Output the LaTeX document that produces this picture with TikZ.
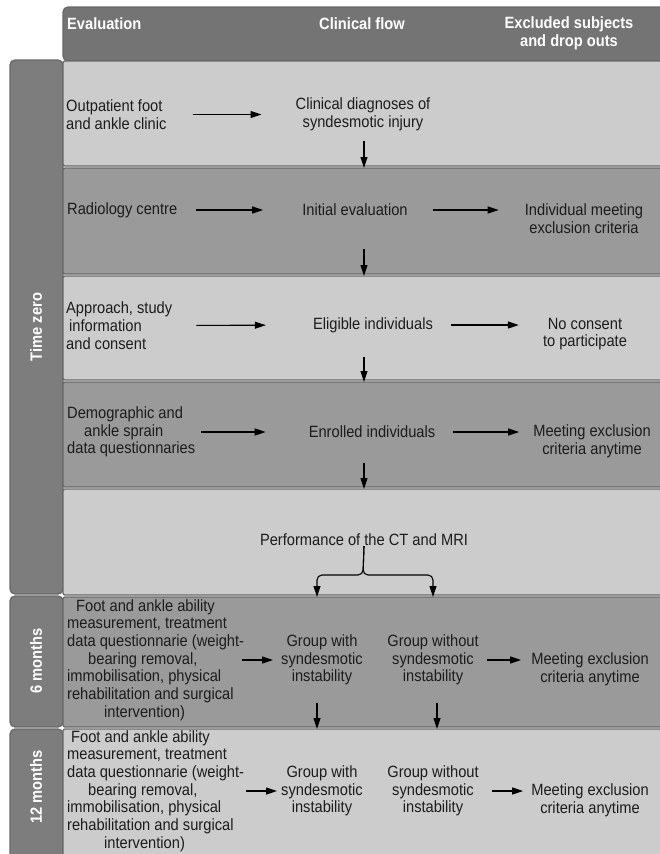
\documentclass[tikz,border=0pt]{standalone}
\usepackage{fontspec}
\setmainfont{Liberation Sans}[FakeStretch=0.9]
\usetikzlibrary{arrows.meta,calc}
\definecolor{hdr}{HTML}{747474}
\definecolor{band}{HTML}{7D7D7D}
\definecolor{edge}{HTML}{686868}
\definecolor{lite}{HTML}{CCCCCC}
\definecolor{mid}{HTML}{9A9A9A}
\definecolor{ink}{HTML}{1C1C1C}
\begin{document}
\begin{tikzpicture}[x=1pt,y=-1pt,
  font=\fontsize{16.3}{17.7}\selectfont,
  box/.style={draw=edge, line width=1.3pt, anchor=north west, inner sep=0pt, outer sep=0pt, rounded corners=2pt},
  rowL/.style={box, fill=lite, minimum width=600pt},
  rowM/.style={box, fill=mid, minimum width=600pt},
  bandbox/.style={box, fill=band, rounded corners=5pt, minimum width=53pt},
  hdrtxt/.style={text=white, inner sep=0pt, align=center, font=\fontsize{16.3}{17.7}\selectfont\bfseries},
  bandtxt/.style={hdrtxt, rotate=90},
  txt/.style={text=ink, inner sep=0pt, align=center},
  ltxt/.style={txt, align=left, anchor=west},
  arr/.style={-{Triangle[length=11pt,width=7pt]}, line width=1.1pt, draw=black},
]
\useasboundingbox (0,0) rectangle (659,854);
% header
\node[box, fill=hdr, rounded corners=5pt, minimum width=605pt, minimum height=54pt] (hdr) at (63,7) {};
% bands
\node[bandbox, minimum height=534pt] (b1) at (10,60) {};
\node[bandbox, minimum height=131pt] (b2) at (10,596) {};
\node[bandbox, minimum height=140pt] (b3) at (10,729) {};
% rows
\node[rowL, minimum height=105pt] (r1) at (63,61) {};
\node[rowM, minimum height=106pt] (r2) at (63,168) {};
\node[rowL, minimum height=104pt] (r3) at (63,276) {};
\node[rowM, minimum height=105pt] (r4) at (63,382) {};
\node[rowL, minimum height=106pt] (r5) at (63,489) {};
\node[rowM, minimum height=130pt] (r6) at (63,597) {};
\node[rowL, minimum height=140pt] (r7) at (63,729) {};
% header texts
\node[hdrtxt, anchor=west] (hEval) at (67,24) {Evaluation};
\node[hdrtxt] (hFlow) at (362,24) {Clinical flow};
\node[hdrtxt] (hExcl) at (569,33) {Excluded subjects\\and drop outs};
% band labels
\node[bandtxt] (tz) at (36,327) {Time zero};
\node[bandtxt] (t6) at (36,661) {6 months};
\node[bandtxt] (t12) at (36,787) {12 months};
% row 1
\node[ltxt] (e1) at (66,114.5) {Outpatient foot\\and ankle clinic};
\node[txt] (f1) at (363,114.5) {Clinical diagnoses of\\syndesmotic injury};
% row 2
\node[ltxt] (e2) at (67,210) {Radiology centre};
\node[txt] (f2) at (355,210) {Initial evaluation};
\node[txt] (x2) at (584,219) {Individual meeting\\exclusion criteria};
% row 3
\node[ltxt] (e3) at (66,325.5) {Approach, study\\\hspace*{3pt}information\\and consent};
\node[txt] (f3) at (373,325) {Eligible individuals};
\node[txt] (x3) at (585,334) {No consent\\to participate};
% row 4
\node[ltxt] (e4) at (67,432) {Demographic and\\\hspace*{17pt}ankle sprain\\data questionnaries};
\node[txt] (f4) at (372,432) {Enrolled individuals};
\node[txt] (x4) at (592,441) {Meeting exclusion\\criteria anytime};
% row 5
\node[txt] (perf) at (364,540) {Performance of the CT and MRI};
% row 6
\node[ltxt] (e6) at (67,660) {\hspace*{9pt}Foot and ankle ability\\measurement, treatment\\data questionnarie (weight-\\\hspace*{21pt}bearing removal,\\immobilisation, physical\\rehabilitation and surgical\\\hspace*{37pt}intervention)};
\node[txt] (g6a) at (322,660) {Group with\\syndesmotic\\instability};
\node[txt] (g6b) at (433,660) {Group without\\syndesmotic\\instability};
\node[txt] (x6) at (590,669) {Meeting exclusion\\criteria anytime};
% row 7
\node[ltxt] (e7) at (67,791) {\hspace*{4pt}Foot and ankle ability\\measurement, treatment\\data questionnarie (weight-\\\hspace*{21pt}bearing removal,\\immobilisation, physical\\rehabilitation and surgical\\\hspace*{37pt}intervention)};
\node[txt] (g7a) at (322,791) {Group with\\syndesmotic\\instability};
\node[txt] (g7b) at (433,791) {Group without\\syndesmotic\\instability};
\node[txt] (x7) at (590,800) {Meeting exclusion\\criteria anytime};
% helper coordinates
\coordinate (cx) at (364,0);
\coordinate (bj) at (363,575);
\coordinate (bl) at (317,0);
\coordinate (br) at (433,0);
\coordinate (da) at (317,0);
\coordinate (db) at (437,0);
% horizontal arrows
\draw[arr, shorten <=26pt, shorten >=34pt] (e1.east) -- (f1.west);
\draw[arr, shorten <=19pt, shorten >=39pt] (e2.east) -- (f2.west);
\draw[arr, shorten <=25pt, shorten >=26pt] (f2.east) -- (x2.west |- f2.east);
\draw[arr, shorten <=24pt, shorten >=47pt] (e3.east) -- (f3.west);
\draw[arr, shorten <=18pt, shorten >=24pt] (f3.east) -- (x3.west |- f3.east);
\draw[arr, shorten <=6pt, shorten >=43pt] (e4.east) -- (f4.west);
\draw[arr, shorten <=18pt, shorten >=14pt] (f4.east) -- (x4.west |- f4.east);
\draw[arr, shorten <=-2pt, shorten >=8pt] (e6.east) -- (g6a.west);
\draw[arr, shorten <=8pt, shorten >=10pt] (g6b.east) -- (x6.west |- g6b.east);
\draw[arr, shorten <=2pt, shorten >=4pt] (e7.east) -- (g7a.west);
\draw[arr, shorten <=13pt, shorten >=8pt] (g7b.east) -- (x7.west |- g7b.east);
% vertical arrows
\draw[arr] ($(cx |- r2.north)+(0,-27)$) -- (cx |- r2.north);
\draw[arr] ($(cx |- r3.north)+(0,-27)$) -- (cx |- r3.north);
\draw[arr] ($(cx |- r4.north)+(0,-25)$) -- (cx |- r4.north);
\draw[arr] ($(cx |- r5.north)+(0,-26)$) -- (cx |- r5.north);
\draw[arr, rounded corners=5pt] (perf.south) -- (bj) -| (bl |- r6.north);
\draw[arr, rounded corners=5pt] (perf.south) -- (bj) -| (br |- r6.north);
\draw[arr] ($(da |- r7.north)+(0,-26)$) -- (da |- r7.north);
\draw[arr] ($(db |- r7.north)+(0,-26)$) -- (db |- r7.north);
\end{tikzpicture}
\end{document}
